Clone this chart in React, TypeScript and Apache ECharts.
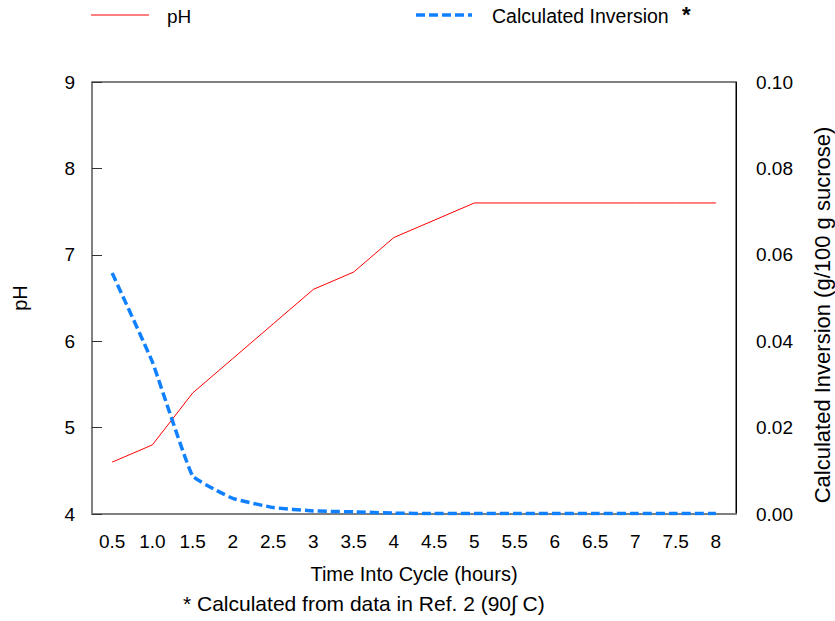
import React, { useEffect, useRef } from "react";
import * as echarts from "echarts";

const categories = ["0.5", "1.0", "1.5", "2", "2.5", "3", "3.5", "4", "4.5", "5", "5.5", "6", "6.5", "7", "7.5", "8"];
const phValues = [4.6, 4.8, 5.4, 5.8, 6.2, 6.6, 6.8, 7.2, 7.4, 7.6, 7.6, 7.6, 7.6, 7.6, 7.6, 7.6];
const inversionValues = [0.0558, 0.0352, 0.0088, 0.0036, 0.0015, 0.0007, 0.0005, 0.0002, 0.0001, 0.0001, 0.0001, 0.0001, 0.0001, 0.0001, 0.0001, 0.0001];
const leftTicks = { min: 4, max: 9, interval: 1 };
const rightTicks = { min: 0, max: 0.1, interval: 0.02 };

const FONT = "'Liberation Sans', Arial, sans-serif";
const BLUE = "#0f80ff";

export default function App() {
  const ref = useRef<HTMLDivElement>(null);
  useEffect(() => {
    if (!ref.current) return;
    const chart = echarts.init(ref.current, null, { renderer: "svg" });
    chart.setOption({
      animation: false,
      backgroundColor: "#fff",
      textStyle: { fontFamily: FONT },
      grid: { left: 92, right: 99, top: 82, bottom: 107, show: true, borderColor: "#000", borderWidth: 1, backgroundColor: "transparent" },
      xAxis: {
        type: "category",
        data: categories,
        boundaryGap: true,
        name: "Time Into Cycle (hours)",
        nameLocation: "middle",
        nameGap: 50,
        nameTextStyle: { fontSize: 20, color: "#000", fontFamily: FONT },
        axisLine: { lineStyle: { color: "#808080", width: 2 } },
        axisTick: { inside: true, length: 10, alignWithLabel: true, lineStyle: { color: "#333", width: 1 } },
        axisLabel: { fontSize: 19, color: "#000", margin: 18, fontFamily: FONT, interval: 0 },
        splitLine: { show: false },
      },
      yAxis: [
        {
          type: "value",
          min: leftTicks.min,
          max: leftTicks.max,
          interval: leftTicks.interval,
          name: "pH",
          nameLocation: "middle",
          nameGap: 62,
          nameRotate: 90,
          nameTextStyle: { fontSize: 20, color: "#000", fontFamily: FONT },
          axisLine: { show: true, lineStyle: { color: "#808080", width: 2 } },
          axisTick: { show: true, inside: true, length: 10, lineStyle: { color: "#333", width: 1 } },
          axisLabel: { fontSize: 19, color: "#000", margin: 17, fontFamily: FONT },
          splitLine: { show: false },
        },
        {
          type: "value",
          min: rightTicks.min,
          max: rightTicks.max,
          interval: rightTicks.interval,
          position: "right",
          axisLine: { show: true, lineStyle: { color: "#000", width: 1 } },
          axisTick: { show: false },
          axisLabel: { fontSize: 19, color: "#000", margin: 20, fontFamily: FONT, formatter: (v: number) => v.toFixed(2) },
          splitLine: { show: false },
        },
      ],
      series: [
        {
          name: "pH",
          type: "line",
          yAxisIndex: 0,
          data: phValues,
          symbol: "none",
          lineStyle: { color: "#ff0000", width: 1 },
          z: 3,
        },
        {
          name: "Calculated Inversion",
          type: "line",
          yAxisIndex: 1,
          data: inversionValues,
          symbol: "none",
          smooth: 0.1,
          lineStyle: { color: BLUE, width: 3.5, type: [9, 4] },
          z: 4,
        },
      ],
      graphic: [
        { type: "line", shape: { x1: 91, y1: 15, x2: 149, y2: 15 }, style: { stroke: "#ff0000", lineWidth: 1 } },
        { type: "text", style: { x: 167, y: 16, text: "pH", fontSize: 19, fill: "#000", fontFamily: FONT, verticalAlign: "middle" } },
        { type: "line", shape: { x1: 416, y1: 15, x2: 472, y2: 15 }, style: { stroke: BLUE, lineWidth: 3.5, lineDash: [9, 4] } },
        { type: "text", style: { x: 492, y: 16, text: "Calculated Inversion", fontSize: 19.5, fill: "#000", fontFamily: FONT, verticalAlign: "middle" } },
        { type: "text", style: { x: 682, y: 14, text: "*", fontSize: 22, fontWeight: "bold", fill: "#000", fontFamily: FONT, verticalAlign: "middle" } },
        {
          type: "text",
          x: 822,
          y: 315,
          rotation: Math.PI / 2,
          style: { x: 0, y: 0, text: "Calculated Inversion (g/100 g sucrose)", fontSize: 22, fill: "#000", fontFamily: FONT, align: "center", verticalAlign: "middle" },
        },
        { type: "text", style: { x: 183, y: 603, text: "* Calculated from data in Ref. 2 (90\u222B C)", fontSize: 21, fill: "#000", fontFamily: FONT, verticalAlign: "middle" } },
      ],
    });
    return () => chart.dispose();
  }, []);
  return <div ref={ref} style={{ width: 835, height: 621, position: "absolute", left: 0, top: 0 }} />;
}
